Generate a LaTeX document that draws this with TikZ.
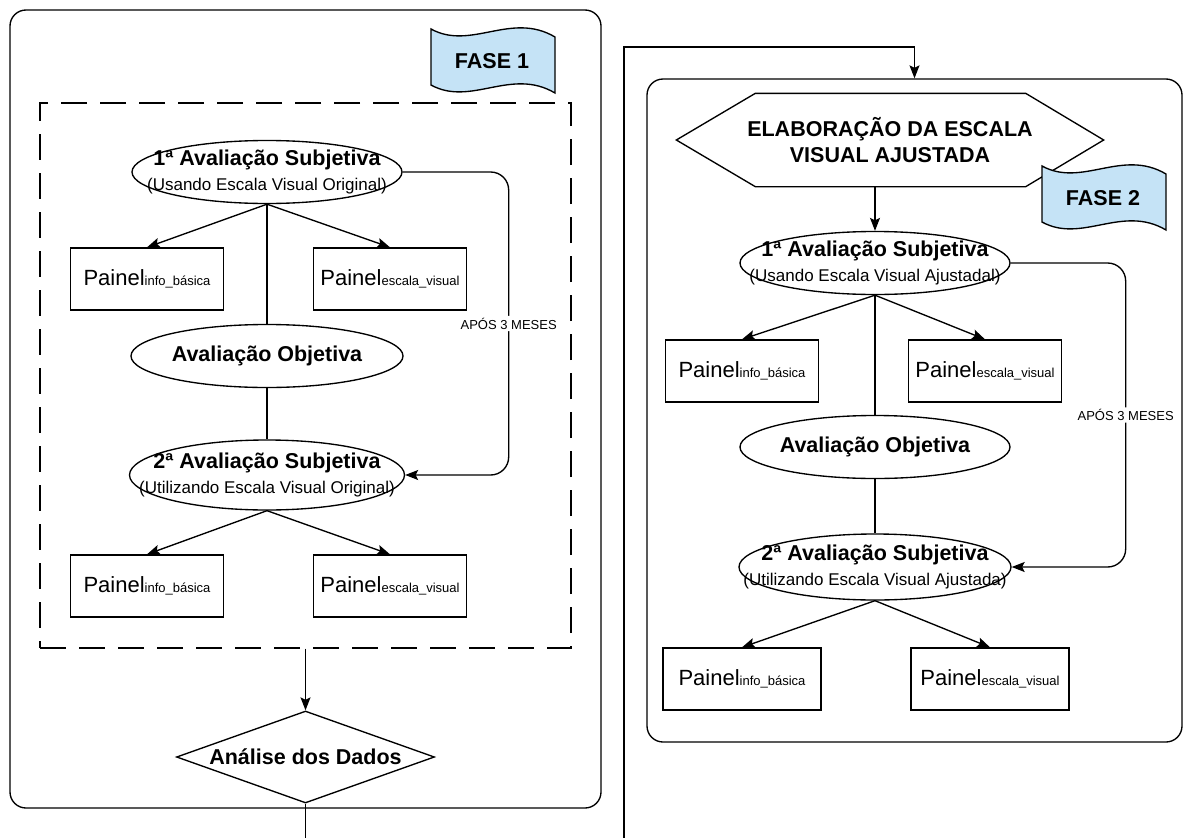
\documentclass[tikz,border=0pt]{standalone}
\usepackage{fontspec}
\setmainfont{Liberation Sans}
\usetikzlibrary{calc,shapes.geometric,arrows.meta}

\definecolor{azulfase}{RGB}{197,227,246}
\newcommand{\titulo}{\fontsize{21.5}{26}\selectfont\bfseries}
\newcommand{\subtit}{\fontsize{17}{25}\selectfont}
\newcommand{\painel}[1]{\fontsize{22}{26}\selectfont Painel{\fontsize{13}{15}\selectfont #1}}
% bandeira da fase: canto superior esquerdo em (#1,#2), nome #3, texto #4
\newcommand{\bandeira}[4]{%
  \begin{scope}[shift={(#1,#2)}]
    \draw[fill=azulfase] (0,0) .. controls (40,22) and (80,-18) .. (124,8)
      -- (124,64) .. controls (80,38) and (40,78) .. (0,56) -- cycle;
    \node[font=\titulo] (#3) at (61,32) {#4};
  \end{scope}}

\begin{document}
\begin{tikzpicture}[x=1pt,y=-1pt,line width=1.35pt,
  quadro/.style={draw,rounded corners=16pt,minimum width=#1},
  tracejado/.style={draw,dash pattern=on 26pt off 13pt},
  aval/.style={draw,ellipse,fill=white,inner xsep=-150pt,inner ysep=-60pt,
    align=center,font=\subtit,minimum width=270pt,minimum height=63pt},
  painelbox/.style={draw,rectangle,fill=white,inner sep=0pt,
    minimum width=153pt,minimum height=62pt},
  seta/.style={-{Stealth[length=13pt,width=10pt,inset=2.5pt]}},
  ligacao/.style={rounded corners=18pt},
  rotulo/.style={fill=white,inner sep=2pt,font=\fontsize{13}{15}\selectfont}]
\useasboundingbox (0,0) rectangle (1184,838);
\clip (0,0) rectangle (1184,838);

% FASE 1
\node[quadro=591pt,minimum height=798pt] (quadro1) at (305.5,409) {};
\node[tracejado,minimum width=531pt,minimum height=545pt] (tracos1) at (305.5,375.5) {};
\bandeira{431}{29}{fase1}{FASE 1}

\node[aval] (subj1) at (267,172) {{\titulo 1ª Avaliação Subjetiva}\\(Usando Escala Visual Original)};
\node[painelbox] (info1) at (147,279) {\painel{info\_básica}};
\node[painelbox] (esc1) at (390,279) {\painel{escala\_visual}};
\node[aval,font=\titulo,minimum width=272pt] (obj1) at (267,356) {Avaliação Objetiva};
\node[aval,minimum width=275pt,minimum height=70pt] (subj2) at (267,475) {{\titulo 2ª Avaliação Subjetiva}\\(Utilizando Escala Visual Original)};
\node[painelbox] (info2) at (147,586) {\painel{info\_básica}};
\node[painelbox] (esc2) at (390,586) {\painel{escala\_visual}};
\node[draw,diamond,fill=white,inner sep=-40pt,minimum width=258pt,minimum height=92pt,
  font=\titulo] (analise) at (305.5,757) {Análise dos Dados};

\draw[seta] (subj1.south) -- (info1.north);
\draw[seta] (subj1.south) -- (esc1.north);
\draw (subj1.south) -- (obj1.north);
\draw (obj1.south) -- (subj2.north);
\draw[seta] (subj2.south) -- (info2.north);
\draw[seta] (subj2.south) -- (esc2.north);
\draw[ligacao,seta] (subj1.east) -- ++(106,0) |- node[rotulo,pos=0.25] {APÓS 3 MESES} (subj2.east);
\draw[seta] (tracos1.south) -- (analise.north);

% FASE 2
\node[quadro=535pt,minimum height=663pt] (quadro2) at (914.5,410.5) {};
\node[minimum width=426pt,minimum height=92pt,inner sep=0pt,align=center,
  font=\titulo] (elabora) at (890,140) {ELABORAÇÃO DA ESCALA\\VISUAL AJUSTADA};
\draw ($(elabora.north west)+(79,0)$) -- ($(elabora.north east)+(-78,0)$) -- (elabora.east)
  -- ($(elabora.south east)+(-78,0)$) -- ($(elabora.south west)+(79,0)$) -- (elabora.west) -- cycle;
\bandeira{1042}{166}{fase2}{FASE 2}

\node[aval] (subj3) at (875,263) {{\titulo 1ª Avaliação Subjetiva}\\(Usando Escala Visual Ajustadal)};
\node[painelbox] (info3) at (742,371) {\painel{info\_básica}};
\node[painelbox] (esc3) at (985,371) {\painel{escala\_visual}};
\node[aval,font=\titulo] (obj2) at (875,447) {Avaliação Objetiva};
\node[aval,minimum width=272pt,minimum height=66pt] (subj4) at (875,567) {{\titulo 2ª Avaliação Subjetiva}\\(Utilizando Escala Visual Ajustada)};
\node[painelbox,minimum width=158pt] (info4) at (742,679) {\painel{info\_básica}};
\node[painelbox,minimum width=158pt] (esc4) at (990,679) {\painel{escala\_visual}};

\draw[seta] (elabora.south -| subj3.north) -- (subj3.north);
\draw[seta] (subj3.south) -- (info3.north);
\draw[seta] (subj3.south) -- (esc3.north);
\draw (subj3.south) -- (obj2.north);
\draw (obj2.south) -- (subj4.north);
\draw[seta] (subj4.south) -- (info4.north);
\draw[seta] (subj4.south) -- (esc4.north);
\draw[ligacao,seta] (subj3.east) -- ++(115,0) |- node[rotulo,pos=0.25] {APÓS 3 MESES} (subj4.east);

% ligacao entre as fases
\coordinate (subida) at (624,47);
\draw[seta] (analise.south) -- ++(0,47) -| (subida) -| (quadro2.north);
\end{tikzpicture}
\end{document}
